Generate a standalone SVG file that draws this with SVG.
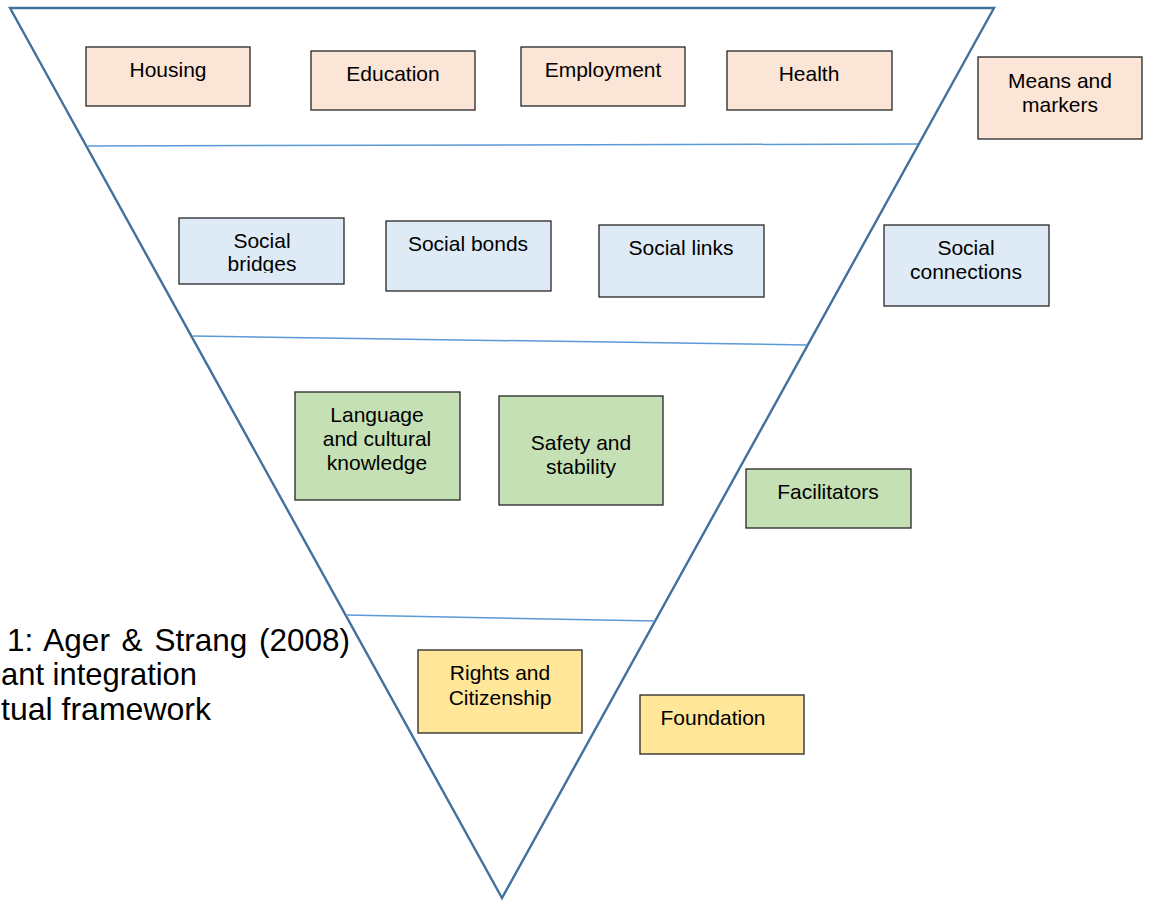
<svg xmlns="http://www.w3.org/2000/svg" width="1152" height="902" viewBox="0 0 1152 902">
<style>
.box{stroke:#262626;stroke-width:1.3}
.mm{fill:#FBE5D6}
.sc{fill:#DEEBF7}
.fa{fill:#C5E0B4}
.fo{fill:#FFE699}
.t{font-family:"Liberation Sans",Arial,sans-serif;font-size:21px;fill:#000;text-anchor:middle}
.cap{font-family:"Liberation Sans",Arial,sans-serif;font-size:31.5px;fill:#000}
.tri{fill:none;stroke:#41719C;stroke-width:2.4;stroke-linejoin:miter}
.lay{stroke:#5B9BD5;stroke-width:1.5;fill:none}
</style>
<defs>
<clipPath id="clipBridges"><rect x="179" y="218" width="165" height="55"/></clipPath>
</defs>
<rect width="1152" height="902" fill="#fff"/>
<g id="layers">
<polygon class="tri" points="10,8 994,8 502,898"/>
<line class="lay" x1="88" y1="146" x2="918" y2="144"/>
<line class="lay" x1="193" y1="336" x2="807" y2="345"/>
<line class="lay" x1="346" y1="615" x2="655" y2="621"/>
</g>
<g id="caption">
<text class="cap" x="350" y="651" word-spacing="3" text-anchor="end">1: Ager &amp; Strang (2008)</text>
<text class="cap" x="1" y="685" textLength="196" lengthAdjust="spacingAndGlyphs">ant integration</text>
<text class="cap" x="1" y="720" textLength="210" lengthAdjust="spacingAndGlyphs">tual framework</text>
</g>
<g id="housing"><rect class="box mm" x="86" y="47" width="164" height="59"/><text class="t" x="168" y="77">Housing</text></g>
<g id="education"><rect class="box mm" x="311" y="51" width="164" height="59"/><text class="t" x="393" y="81">Education</text></g>
<g id="employment"><rect class="box mm" x="521" y="47" width="164" height="59"/><text class="t" x="603" y="77">Employment</text></g>
<g id="health"><rect class="box mm" x="727" y="51" width="165" height="59"/><text class="t" x="809" y="81">Health</text></g>
<g id="means-markers"><rect class="box mm" x="978" y="57" width="164" height="82"/><text class="t" x="1060" y="88">Means and</text><text class="t" x="1060" y="112">markers</text></g>
<g id="social-bridges"><rect class="box sc" x="179" y="218" width="165" height="66"/><g clip-path="url(#clipBridges)"><text class="t" x="262" y="248">Social</text><text class="t" x="262" y="271">bridges</text></g></g>
<g id="social-bonds"><rect class="box sc" x="386" y="221" width="165" height="70"/><text class="t" x="468" y="251">Social bonds</text></g>
<g id="social-links"><rect class="box sc" x="599" y="225" width="165" height="72"/><text class="t" x="681" y="255">Social links</text></g>
<g id="social-connections"><rect class="box sc" x="884" y="225" width="165" height="81"/><text class="t" x="966" y="255">Social</text><text class="t" x="966" y="279">connections</text></g>
<g id="language"><rect class="box fa" x="295" y="392" width="165" height="108"/><text class="t" x="377" y="422">Language</text><text class="t" x="377" y="446">and cultural</text><text class="t" x="377" y="470">knowledge</text></g>
<g id="safety"><rect class="box fa" x="499" y="396" width="164" height="109"/><text class="t" x="581" y="450">Safety and</text><text class="t" x="581" y="474">stability</text></g>
<g id="facilitators"><rect class="box fa" x="746" y="469" width="165" height="59"/><text class="t" x="828" y="499">Facilitators</text></g>
<g id="rights"><rect class="box fo" x="418" y="650" width="164" height="83"/><text class="t" x="500" y="680">Rights and</text><text class="t" x="500" y="705">Citizenship</text></g>
<g id="foundation"><rect class="box fo" x="640" y="695" width="164" height="59"/><text class="t" x="713" y="725">Foundation</text></g>
</svg>
